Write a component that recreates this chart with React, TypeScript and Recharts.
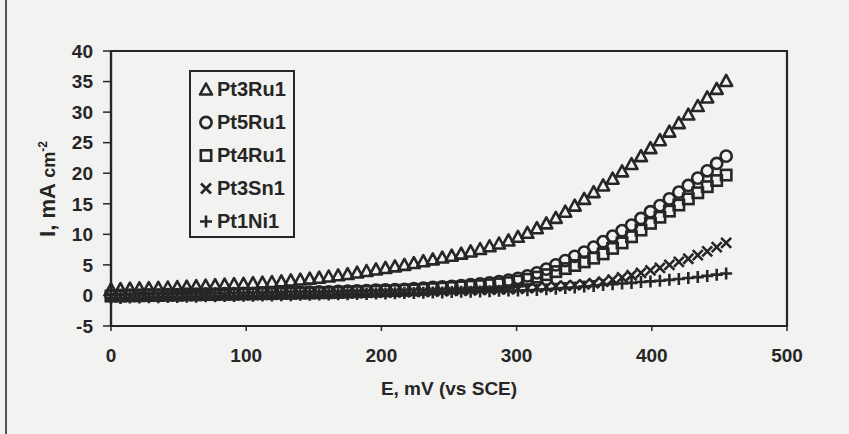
import { ScatterChart, Scatter, XAxis, YAxis, ReferenceArea } from "recharts";

const INK = "#262626";
const FONT = '"Liberation Sans", Arial, sans-serif';

const E_MV = [
  0, 7, 14, 21, 28, 35, 42, 49, 56, 63,
  70, 77, 84, 91, 98, 105, 112, 119, 126, 133,
  140, 147, 154, 161, 168, 175, 182, 189, 196, 203,
  210, 217, 224, 231, 238, 245, 252, 259, 266, 273,
  280, 287, 294, 301, 308, 315, 322, 329, 336, 343,
  350, 357, 364, 371, 378, 385, 392, 399, 406, 413,
  420, 427, 434, 441, 448, 455,
];

const PT3RU1 = [
  1.0, 1.05, 1.1, 1.15, 1.2, 1.25, 1.3, 1.38, 1.45, 1.52,
  1.6, 1.68, 1.76, 1.84, 1.9, 2.0, 2.1, 2.2, 2.3, 2.45,
  2.6, 2.75, 2.9, 3.1, 3.3, 3.5, 3.75, 4.0, 4.25, 4.5,
  4.75, 5.0, 5.3, 5.6, 5.9, 6.2, 6.5, 6.85, 7.2, 7.6,
  8.05, 8.5, 9.0, 9.6, 10.25, 11.0, 11.8, 12.7, 13.7, 14.7,
  15.8, 16.9, 18.0, 19.1, 20.3, 21.5, 22.8, 24.1, 25.4, 26.8,
  28.2, 29.6, 31.0, 32.4, 33.8, 35.1,
];

const PT5RU1 = [
  0.0, 0.0, 0.05, 0.05, 0.1, 0.1, 0.15, 0.15, 0.2, 0.2,
  0.25, 0.25, 0.3, 0.3, 0.35, 0.35, 0.4, 0.4, 0.45, 0.5,
  0.5, 0.55, 0.6, 0.6, 0.65, 0.7, 0.75, 0.8, 0.85, 0.9,
  0.95, 1.0, 1.1, 1.2, 1.3, 1.4, 1.5, 1.6, 1.75, 1.9,
  2.05, 2.25, 2.5, 2.8, 3.2, 3.7, 4.3, 5.0, 5.7, 6.4,
  7.1, 7.9, 8.8, 9.7, 10.6, 11.5, 12.6, 13.7, 14.7, 15.8,
  16.9, 18.0, 19.2, 20.4, 21.6, 22.8,
];

const PT4RU1 = [
  -0.1, -0.1, -0.05, -0.05, 0.0, 0.0, 0.05, 0.05, 0.1, 0.1,
  0.15, 0.15, 0.2, 0.2, 0.25, 0.25, 0.3, 0.3, 0.35, 0.35,
  0.4, 0.4, 0.45, 0.45, 0.5, 0.55, 0.6, 0.65, 0.7, 0.75,
  0.8, 0.85, 0.9, 1.0, 1.1, 1.2, 1.3, 1.4, 1.5, 1.6,
  1.75, 1.9, 2.1, 2.35, 2.65, 3.0, 3.4, 3.9, 4.4, 4.9,
  5.5, 6.1, 6.8, 7.7, 8.6, 9.6, 10.7, 11.8, 12.8, 13.8,
  14.8, 15.8, 16.8, 17.8, 18.8, 19.7,
];

const PT3SN1 = [
  -0.2, -0.2, -0.2, -0.15, -0.15, -0.1, -0.1, -0.05, -0.05, 0.0,
  0.0, 0.05, 0.05, 0.1, 0.1, 0.15, 0.15, 0.2, 0.2, 0.25,
  0.25, 0.3, 0.3, 0.35, 0.35, 0.4, 0.4, 0.45, 0.45, 0.5,
  0.5, 0.55, 0.6, 0.6, 0.65, 0.7, 0.75, 0.8, 0.85, 0.9,
  0.95, 1.0, 1.05, 1.1, 1.2, 1.3, 1.4, 1.5, 1.6, 1.7,
  1.8, 2.0, 2.25, 2.6, 2.95, 3.3, 3.7, 4.1, 4.5, 5.0,
  5.5, 6.0, 6.6, 7.2, 7.9, 8.6,
];

const PT1NI1 = [
  -0.4, -0.4, -0.35, -0.35, -0.3, -0.3, -0.25, -0.25, -0.2, -0.2,
  -0.15, -0.15, -0.1, -0.1, -0.05, -0.05, 0.0, 0.0, 0.05, 0.05,
  0.1, 0.1, 0.15, 0.15, 0.2, 0.2, 0.25, 0.25, 0.3, 0.3,
  0.35, 0.4, 0.4, 0.45, 0.5, 0.5, 0.55, 0.6, 0.6, 0.65,
  0.7, 0.75, 0.8, 0.8, 0.85, 0.9, 1.0, 1.1, 1.2, 1.3,
  1.45, 1.55, 1.7, 1.85, 1.95, 2.05, 2.2, 2.3, 2.4, 2.55,
  2.7, 2.85, 3.0, 3.2, 3.4, 3.6,
];

const X_TICKS = [0, 100, 200, 300, 400, 500];
const Y_TICKS = [-5, 0, 5, 10, 15, 20, 25, 30, 35, 40];

type Pt = { cx?: number; cy?: number };

const SW = 2.6;

const Tri = ({ cx = 0, cy = 0 }: Pt) => (
  <path d={`M${cx},${cy - 6}L${cx + 6},${cy + 5}L${cx - 6},${cy + 5}Z`} fill="none" stroke={INK} strokeWidth={SW} strokeLinejoin="round" />
);
const Circ = ({ cx = 0, cy = 0 }: Pt) => <circle cx={cx} cy={cy} r={5.6} fill="none" stroke={INK} strokeWidth={SW} />;
const Sq = ({ cx = 0, cy = 0 }: Pt) => (
  <rect x={cx - 5.2} y={cy - 5.2} width={10.4} height={10.4} fill="none" stroke={INK} strokeWidth={SW} />
);
const Cross = ({ cx = 0, cy = 0 }: Pt) => (
  <path d={`M${cx - 5},${cy - 5}L${cx + 5},${cy + 5}M${cx + 5},${cy - 5}L${cx - 5},${cy + 5}`} stroke={INK} strokeWidth={SW} />
);
const Plus = ({ cx = 0, cy = 0 }: Pt) => (
  <path d={`M${cx - 6},${cy}L${cx + 6},${cy}M${cx},${cy - 6}L${cx},${cy + 6}`} stroke={INK} strokeWidth={SW} />
);

const SERIES = [
  { name: "Pt3Ru1", values: PT3RU1, Shape: Tri },
  { name: "Pt5Ru1", values: PT5RU1, Shape: Circ },
  { name: "Pt4Ru1", values: PT4RU1, Shape: Sq },
  { name: "Pt3Sn1", values: PT3SN1, Shape: Cross },
  { name: "Pt1Ni1", values: PT1NI1, Shape: Plus },
];

const tickStyle = { fontFamily: FONT, fontSize: 19, fontWeight: 700, fill: INK };

const YTitle = () => (
  <text transform="rotate(-90, 55, 189)" x={55} y={189} textAnchor="middle" fontFamily={FONT} fill={INK} fontWeight={700}>
    <tspan fontSize={22}>I, mA </tspan>
    <tspan fontSize={18}>cm</tspan>
    <tspan fontSize={12} dy={-8}>-2</tspan>
  </text>
);

export default function App() {
  return (
    <div style={{ position: "absolute", left: 0, top: 0, width: 849, height: 434, background: "#f2f2f0", overflow: "hidden" }}>
      <div style={{ position: "absolute", left: 5, top: 0, width: 2, height: 434, background: "#555" }} />
      <ScatterChart width={849} height={434} margin={{ top: 51, right: 62, bottom: 38, left: 0 }}>
        <XAxis
          type="number"
          dataKey="e"
          domain={[0, 500]}
          ticks={X_TICKS}
          height={70}
          tick={tickStyle}
          tickSize={5}
          tickMargin={18}
          axisLine={{ stroke: INK, strokeWidth: 2.2 }}
          tickLine={{ stroke: INK, strokeWidth: 1.5 }}
          label={{ value: "E, mV (vs SCE)", position: "insideBottom", offset: 1, fontFamily: FONT, fontSize: 19, fontWeight: 700, fill: INK }}
        />
        <YAxis
          type="number"
          dataKey="v"
          domain={[-5, 40]}
          ticks={Y_TICKS}
          width={111}
          tick={tickStyle}
          tickSize={8}
          tickMargin={10}
          axisLine={{ stroke: INK, strokeWidth: 2.2 }}
          tickLine={{ stroke: INK, strokeWidth: 1.5 }}
          label={<YTitle />}
        />
        <ReferenceArea x1={0} x2={500} y1={-5} y2={40} fill="none" stroke={INK} strokeWidth={2.2} />
        {SERIES.map((s) => (
          <Scatter
            key={s.name}
            name={s.name}
            data={E_MV.map((e, i) => ({ e, v: s.values[i] }))}
            shape={s.Shape}
            isAnimationActive={false}
          />
        ))}
      </ScatterChart>
      <div
        style={{
          position: "absolute",
          left: 189,
          top: 70,
          width: 106,
          height: 168,
          boxSizing: "border-box",
          border: `2px solid ${INK}`,
          paddingTop: 1,
          fontFamily: FONT,
          fontSize: 20,
          fontWeight: 700,
          color: INK,
        }}
      >
        {SERIES.map((s) => (
          <div key={s.name} style={{ height: 33, display: "flex", alignItems: "center" }}>
            <svg width={26} height={33} style={{ flex: "none" }}>
              <s.Shape cx={15} cy={16.5} />
            </svg>
            <span>{s.name}</span>
          </div>
        ))}
      </div>
    </div>
  );
}
